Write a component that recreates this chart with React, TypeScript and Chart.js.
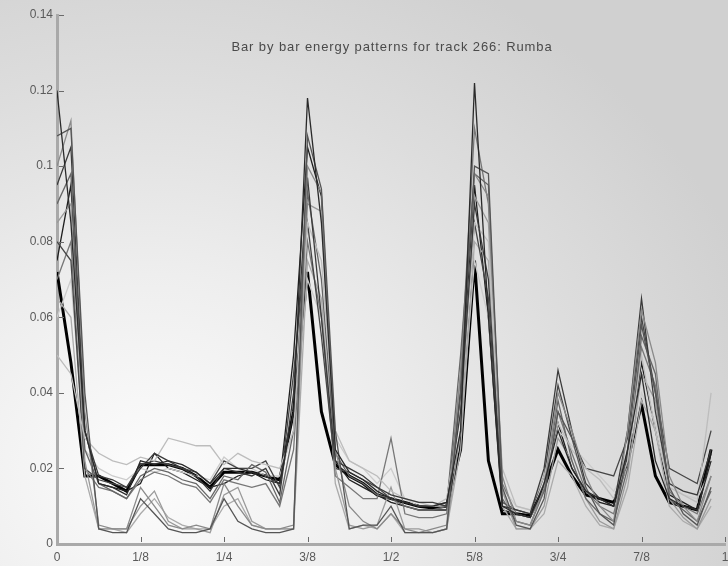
import React, { useEffect, useRef } from "react";
import { Chart, registerables } from "chart.js";

Chart.register(...registerables);

const STEPS = 48;
const xPositions: number[] = Array.from({ length: STEPS }, (_, i) => i / STEPS);

const xTickValues = [0, 0.125, 0.25, 0.375, 0.5, 0.625, 0.75, 0.875, 1];
const xTickLabels = ["0", "1/8", "1/4", "3/8", "1/2", "5/8", "3/4", "7/8", "1"];
const yTickValues = [0, 0.02, 0.04, 0.06, 0.08, 0.1, 0.12, 0.14];
const yTickLabels = ["0", "0.02", "0.04", "0.06", "0.08", "0.1", "0.12", "0.14"];

const titleText = "Bar by bar energy patterns for track 266: Rumba";

const bar1 = [0.120, 0.085, 0.030, 0.016, 0.015, 0.013, 0.022, 0.021, 0.022, 0.021, 0.019, 0.016, 0.020, 0.020, 0.019, 0.018, 0.016, 0.035, 0.118, 0.085, 0.025, 0.019, 0.017, 0.014, 0.012, 0.011, 0.010, 0.010, 0.011, 0.030, 0.122, 0.060, 0.010, 0.008, 0.007, 0.016, 0.030, 0.020, 0.014, 0.012, 0.010, 0.025, 0.045, 0.022, 0.012, 0.010, 0.009, 0.022];
const bar2 = [0.108, 0.110, 0.040, 0.004, 0.003, 0.003, 0.012, 0.008, 0.004, 0.003, 0.003, 0.004, 0.012, 0.006, 0.004, 0.003, 0.003, 0.004, 0.108, 0.094, 0.030, 0.004, 0.005, 0.005, 0.010, 0.003, 0.003, 0.003, 0.004, 0.040, 0.100, 0.098, 0.015, 0.005, 0.004, 0.012, 0.035, 0.028, 0.015, 0.008, 0.005, 0.025, 0.058, 0.040, 0.015, 0.008, 0.005, 0.015];
const bar3 = [0.100, 0.112, 0.035, 0.005, 0.004, 0.004, 0.015, 0.010, 0.005, 0.004, 0.005, 0.004, 0.016, 0.010, 0.005, 0.004, 0.004, 0.005, 0.100, 0.093, 0.025, 0.010, 0.006, 0.004, 0.008, 0.004, 0.003, 0.004, 0.005, 0.045, 0.098, 0.092, 0.018, 0.006, 0.005, 0.015, 0.040, 0.030, 0.018, 0.010, 0.006, 0.030, 0.062, 0.048, 0.018, 0.010, 0.006, 0.018];
const bar4 = [0.095, 0.105, 0.030, 0.018, 0.017, 0.015, 0.020, 0.024, 0.022, 0.020, 0.018, 0.014, 0.020, 0.019, 0.018, 0.020, 0.013, 0.040, 0.097, 0.060, 0.022, 0.020, 0.018, 0.015, 0.013, 0.012, 0.011, 0.011, 0.010, 0.035, 0.090, 0.070, 0.010, 0.009, 0.008, 0.020, 0.046, 0.030, 0.016, 0.012, 0.010, 0.030, 0.065, 0.035, 0.016, 0.014, 0.013, 0.025];
const bar5 = [0.050, 0.045, 0.028, 0.024, 0.022, 0.021, 0.023, 0.022, 0.028, 0.027, 0.026, 0.026, 0.021, 0.024, 0.022, 0.021, 0.020, 0.030, 0.085, 0.075, 0.030, 0.022, 0.020, 0.018, 0.014, 0.012, 0.011, 0.010, 0.012, 0.035, 0.085, 0.080, 0.020, 0.010, 0.009, 0.018, 0.032, 0.025, 0.020, 0.017, 0.012, 0.022, 0.050, 0.030, 0.015, 0.013, 0.011, 0.040];
const bar6 = [0.090, 0.098, 0.025, 0.016, 0.014, 0.012, 0.018, 0.020, 0.019, 0.017, 0.016, 0.012, 0.018, 0.017, 0.021, 0.019, 0.011, 0.030, 0.093, 0.070, 0.024, 0.018, 0.016, 0.013, 0.012, 0.010, 0.009, 0.009, 0.010, 0.050, 0.098, 0.095, 0.012, 0.006, 0.005, 0.014, 0.038, 0.022, 0.012, 0.008, 0.006, 0.020, 0.055, 0.045, 0.012, 0.009, 0.006, 0.014];
const bar7 = [0.085, 0.090, 0.022, 0.004, 0.004, 0.004, 0.010, 0.014, 0.006, 0.004, 0.004, 0.003, 0.013, 0.015, 0.006, 0.004, 0.004, 0.004, 0.090, 0.088, 0.020, 0.005, 0.004, 0.005, 0.015, 0.004, 0.004, 0.003, 0.004, 0.030, 0.092, 0.085, 0.014, 0.004, 0.004, 0.010, 0.028, 0.022, 0.012, 0.006, 0.004, 0.018, 0.045, 0.038, 0.012, 0.007, 0.004, 0.012];
const bar8 = [0.080, 0.075, 0.020, 0.017, 0.016, 0.015, 0.021, 0.022, 0.021, 0.020, 0.019, 0.016, 0.022, 0.020, 0.020, 0.022, 0.015, 0.045, 0.085, 0.055, 0.020, 0.019, 0.017, 0.015, 0.012, 0.011, 0.010, 0.010, 0.011, 0.040, 0.085, 0.065, 0.011, 0.009, 0.008, 0.018, 0.042, 0.028, 0.020, 0.019, 0.018, 0.028, 0.060, 0.040, 0.020, 0.018, 0.016, 0.030];
const bar9 = [0.070, 0.080, 0.020, 0.015, 0.014, 0.012, 0.017, 0.019, 0.018, 0.016, 0.015, 0.011, 0.017, 0.016, 0.015, 0.016, 0.010, 0.025, 0.080, 0.060, 0.018, 0.015, 0.012, 0.012, 0.028, 0.008, 0.007, 0.007, 0.008, 0.045, 0.110, 0.090, 0.016, 0.008, 0.007, 0.014, 0.035, 0.024, 0.014, 0.010, 0.008, 0.022, 0.052, 0.042, 0.014, 0.010, 0.008, 0.018];
const bar10 = [0.065, 0.060, 0.018, 0.004, 0.004, 0.003, 0.008, 0.012, 0.007, 0.005, 0.004, 0.004, 0.010, 0.012, 0.005, 0.004, 0.004, 0.004, 0.075, 0.065, 0.016, 0.004, 0.005, 0.004, 0.008, 0.003, 0.003, 0.003, 0.004, 0.025, 0.080, 0.075, 0.010, 0.004, 0.004, 0.008, 0.022, 0.018, 0.010, 0.005, 0.004, 0.015, 0.038, 0.030, 0.010, 0.006, 0.004, 0.010];
const bar11 = [0.060, 0.070, 0.025, 0.020, 0.018, 0.017, 0.020, 0.019, 0.020, 0.019, 0.018, 0.017, 0.023, 0.020, 0.020, 0.018, 0.018, 0.030, 0.070, 0.060, 0.028, 0.022, 0.020, 0.016, 0.020, 0.012, 0.010, 0.010, 0.010, 0.030, 0.075, 0.060, 0.015, 0.010, 0.009, 0.016, 0.030, 0.026, 0.022, 0.018, 0.014, 0.020, 0.040, 0.032, 0.016, 0.013, 0.012, 0.020];
const bar12 = [0.075, 0.095, 0.030, 0.016, 0.015, 0.014, 0.016, 0.024, 0.020, 0.019, 0.017, 0.015, 0.016, 0.018, 0.019, 0.017, 0.016, 0.050, 0.105, 0.092, 0.022, 0.017, 0.015, 0.013, 0.011, 0.010, 0.009, 0.009, 0.009, 0.040, 0.095, 0.060, 0.009, 0.008, 0.007, 0.016, 0.032, 0.020, 0.014, 0.011, 0.010, 0.024, 0.048, 0.030, 0.013, 0.011, 0.009, 0.024];

const meanPattern = [0.072, 0.048, 0.018, 0.018, 0.016, 0.014, 0.021, 0.021, 0.021, 0.020, 0.018, 0.015, 0.019, 0.019, 0.019, 0.018, 0.017, 0.035, 0.072, 0.035, 0.021, 0.018, 0.016, 0.013, 0.012, 0.011, 0.010, 0.0095, 0.010, 0.025, 0.075, 0.022, 0.008, 0.008, 0.0075, 0.015, 0.025, 0.018, 0.013, 0.012, 0.011, 0.022, 0.037, 0.018, 0.011, 0.010, 0.009, 0.025];

const bars = [bar1, bar2, bar3, bar4, bar5, bar6, bar7, bar8, bar9, bar10, bar11, bar12];
const barColors = ["#2a2a2a", "#555555", "#8a8a8a", "#3a3a3a", "#bdbdbd", "#666666", "#9a9a9a", "#464646", "#777777", "#ababab", "#cccccc", "#1e1e1e"];

export default function App() {
  const canvasRef = useRef<HTMLCanvasElement | null>(null);

  useEffect(() => {
    const canvas = canvasRef.current;
    if (!canvas) return;

    const toPoints = (arr: number[]) => arr.map((v, i) => ({ x: xPositions[i], y: v }));

    const datasets: any[] = bars.map((b, k) => ({
      label: `bar ${k + 1}`,
      data: toPoints(b),
      borderColor: barColors[k],
      borderWidth: 1.3,
      pointRadius: 0,
      tension: 0,
      fill: false,
    }));
    datasets.push({
      label: "mean",
      data: toPoints(meanPattern),
      borderColor: "#000000",
      borderWidth: 3,
      pointRadius: 0,
      tension: 0,
      fill: false,
    });

    const decor = {
      id: "decor",
      afterDraw(chart: any) {
        const { ctx, chartArea, scales } = chart;
        const xs = scales.x;
        const ys = scales.y;
        ctx.save();
        ctx.strokeStyle = "#6a6a6a";
        ctx.lineWidth = 1;
        xTickValues.slice(1).forEach((v) => {
          const px = Math.round(xs.getPixelForValue(v)) + 0.5;
          ctx.beginPath();
          ctx.moveTo(px, chartArea.bottom - 2);
          ctx.lineTo(px, chartArea.bottom - 7);
          ctx.stroke();
        });
        yTickValues.slice(1).forEach((v) => {
          const py = Math.round(ys.getPixelForValue(v)) + 0.5;
          ctx.beginPath();
          ctx.moveTo(chartArea.left + 2, py);
          ctx.lineTo(chartArea.left + 7, py);
          ctx.stroke();
        });
        ctx.fillStyle = "#4a4a4a";
        ctx.font = "13px 'Liberation Sans', Arial, sans-serif";
        try {
          (ctx as any).letterSpacing = "0.9px";
        } catch (e) {}
        ctx.textAlign = "center";
        ctx.textBaseline = "middle";
        ctx.fillText(titleText, 392, 47);
        ctx.restore();
      },
    };

    const chart = new Chart(canvas, {
      type: "line",
      data: { datasets },
      options: {
        animation: false,
        responsive: false,
        devicePixelRatio: 1,
        layout: { padding: { top: 15, right: 3, left: 0, bottom: 0 } },
        plugins: { legend: { display: false }, tooltip: { enabled: false }, title: { display: false } },
        scales: {
          x: {
            type: "linear",
            min: 0,
            max: 1,
            grid: { display: false, drawTicks: false },
            border: { display: true, color: "#a9a9a9", width: 3 },
            afterBuildTicks: (scale: any) => {
              scale.ticks = xTickValues.map((v) => ({ value: v }));
            },
            afterFit: (scale: any) => {
              scale.height = 22;
              scale.paddingLeft = 0;
              scale.paddingRight = 0;
            },
            ticks: {
              autoSkip: false,
              maxRotation: 0,
              padding: 6,
              color: "#5a5a5a",
              font: { family: "'Liberation Sans', Arial, sans-serif", size: 12 },
              callback: (_v: any, i: number) => xTickLabels[i],
            },
          },
          y: {
            type: "linear",
            min: 0,
            max: 0.14,
            grid: { display: false, drawTicks: false },
            border: { display: true, color: "#a9a9a9", width: 3 },
            afterBuildTicks: (scale: any) => {
              scale.ticks = yTickValues.map((v) => ({ value: v }));
            },
            afterFit: (scale: any) => {
              scale.width = 57;
              scale.paddingTop = 0;
              scale.paddingBottom = 0;
            },
            ticks: {
              autoSkip: false,
              padding: 4,
              color: "#5a5a5a",
              font: { family: "'Liberation Sans', Arial, sans-serif", size: 12 },
              callback: (_v: any, i: number) => yTickLabels[i],
            },
          },
        },
      },
      plugins: [decor],
    });

    return () => chart.destroy();
  }, []);

  return (
    <div
      style={{
        position: "fixed",
        left: 0,
        top: 0,
        width: 728,
        height: 566,
        overflow: "hidden",
        background:
          "radial-gradient(ellipse 640px 560px at 150px 470px, #fcfcfc 0%, #eeeeee 35%, #dddddd 70%, #d0d0d0 100%)",
      }}
    >
      <canvas ref={canvasRef} width={728} height={566} style={{ display: "block", width: 728, height: 566 }} />
    </div>
  );
}
